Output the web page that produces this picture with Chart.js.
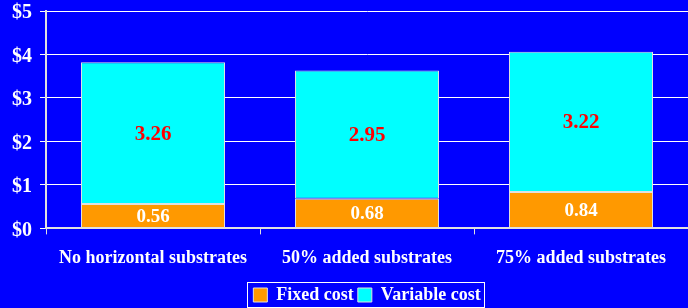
<!DOCTYPE html>
<html>
<head>
<meta charset="utf-8">
<script src="https://cdn.jsdelivr.net/npm/chart.js@4"></script>
<style>
  html, body { margin: 0; padding: 0; background: #0000ff; }
  #wrap { width: 688px; height: 308px; }
</style>
</head>
<body>
<div id="wrap"><canvas id="chart" width="688" height="308"></canvas></div>
<script>
const categories = ['No horizontal substrates', '50% added substrates', '75% added substrates'];
const fixedCost = [0.56, 0.68, 0.84];
const variableCost = [3.26, 2.95, 3.22];
const yTicks = [0, 1, 2, 3, 4, 5];

const FONT = '"Liberation Serif", "Times New Roman", serif';

// draws the value in the middle of every bar segment
const valueLabels = {
  id: 'valueLabels',
  afterDatasetsDraw(chart) {
    const ctx = chart.ctx;
    ctx.save();
    ctx.textAlign = 'center';
    ctx.textBaseline = 'middle';
    chart.data.datasets.forEach((ds, i) => {
      const meta = chart.getDatasetMeta(i);
      meta.data.forEach((bar, j) => {
        ctx.fillStyle = i === 0 ? '#ffffff' : '#ff0000';
        ctx.font = 'bold ' + (i === 0 ? 19 : 21) + 'px ' + FONT;
        ctx.fillText(ds.data[j].toFixed(2), bar.x, (bar.y + bar.base) / 2 + 1);
      });
    });
    ctx.restore();
  }
};

// white frame around the legend
const legendFrame = {
  id: 'legendFrame',
  afterDraw(chart) {
    const lg = chart.legend;
    const items = lg.legendHitBoxes;
    if (!items.length) return;
    const left = items[0].left - 6;
    const last = items[items.length - 1];
    const right = last.left + last.width + 4;
    const mid = items[0].top + items[0].height / 2;
    const ctx = chart.ctx;
    ctx.save();
    ctx.strokeStyle = '#ffffff';
    ctx.lineWidth = 1;
    ctx.strokeRect(Math.round(left) + 0.5, Math.round(mid - 13) + 0.5, Math.round(right - left), 25);
    ctx.restore();
  }
};

new Chart(document.getElementById('chart'), {
  type: 'bar',
  data: {
    labels: categories,
    datasets: [
      {
        label: 'Fixed cost',
        data: fixedCost,
        backgroundColor: '#ff9900',
        borderColor: '#e0e0e0',
        borderWidth: 1,
        borderSkipped: false,
        categoryPercentage: 1,
        barPercentage: 0.673
      },
      {
        label: 'Variable cost',
        data: variableCost,
        backgroundColor: '#00ffff',
        borderColor: '#e0e0e0',
        borderWidth: 1,
        borderSkipped: false,
        categoryPercentage: 1,
        barPercentage: 0.673
      }
    ]
  },
  options: {
    responsive: false,
    animation: false,
    layout: { padding: { top: 11, right: 0, left: 4, bottom: -6 } },
    scales: {
      x: {
        stacked: true,
        grid: { display: true, drawOnChartArea: false, offset: true, color: '#e0e0e0', tickLength: 6 },
        border: { color: '#e0e0e0', width: 2 },
        ticks: {
          color: '#ffffff',
          font: { family: FONT, weight: 'bold', size: 18 },
          padding: 13,
          maxRotation: 0
        }
      },
      y: {
        stacked: true,
        min: 0,
        max: 5,
        afterBuildTicks(axis) { axis.ticks = yTicks.map(v => ({ value: v })); },
        afterFit(axis) { axis.paddingTop = 0; },
        grid: { color: '#ffffff', lineWidth: 1, tickLength: 6 },
        border: { color: '#e0e0e0', width: 2 },
        ticks: {
          color: '#ffffff',
          font: { family: FONT, weight: 'bold', size: 20 },
          padding: 8,
          labelOffset: 2,
          callback: v => '$' + v
        }
      }
    },
    plugins: {
      legend: {
        position: 'bottom',
        fullSize: false,
        labels: {
          color: '#ffffff',
          font: { family: FONT, weight: 'bold', size: 18 },
          boxWidth: 14,
          boxHeight: 14,
          padding: 4
        }
      },
      tooltip: { enabled: false }
    }
  },
  plugins: [valueLabels, legendFrame]
});
</script>
</body>
</html>
